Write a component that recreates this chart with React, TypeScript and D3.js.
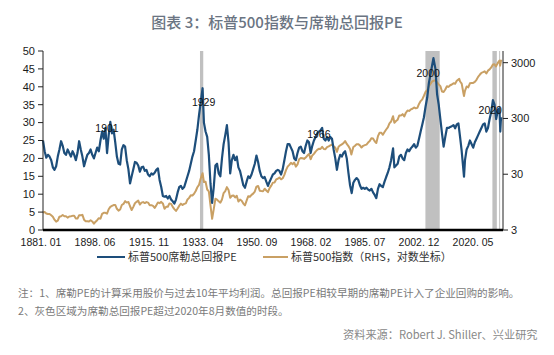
import React from 'react';
import * as d3 from 'd3';

// 标普500席勒总回报PE (left axis), [year, value]
const capeData: [number, number][] = [
  [1881.0, 25.0], [1881.5, 22.0], [1882.0, 20.2], [1882.5, 21.0], [1883.0, 20.5], [1883.5, 19.5],
  [1884.0, 17.5], [1884.5, 16.8], [1885.0, 17.8], [1885.5, 20.5], [1886.0, 22.5], [1886.5, 24.8],
  [1887.0, 23.5], [1887.5, 21.5], [1888.0, 21.0], [1888.5, 22.5], [1889.0, 21.5], [1889.5, 20.5],
  [1890.0, 22.0], [1890.5, 21.0], [1891.0, 19.5], [1891.5, 21.5], [1892.0, 24.8], [1892.5, 22.5],
  [1893.0, 20.5], [1893.5, 17.8], [1894.0, 19.5], [1894.5, 21.0], [1895.0, 21.5], [1895.5, 22.5],
  [1896.0, 21.0], [1896.5, 20.0], [1897.0, 21.5], [1897.5, 23.0], [1898.0, 22.0], [1898.5, 25.0],
  [1899.0, 27.5], [1899.5, 25.5], [1900.0, 28.5], [1900.5, 21.5], [1901.0, 26.5], [1901.5, 30.2],
  [1902.0, 27.0], [1902.5, 28.0], [1903.0, 24.5], [1903.5, 20.5], [1904.0, 18.5], [1904.5, 18.3],
  [1905.0, 22.5], [1905.5, 23.7], [1906.0, 23.3], [1906.5, 19.5], [1907.0, 17.0], [1907.5, 13.0],
  [1908.0, 15.0], [1908.5, 17.0], [1909.0, 19.0], [1909.5, 18.8], [1910.0, 18.0], [1910.5, 16.3],
  [1911.0, 17.5], [1911.5, 17.7], [1912.0, 16.5], [1912.5, 16.8], [1913.0, 15.5], [1913.5, 15.0],
  [1914.0, 15.8], [1914.5, 15.5], [1915.0, 16.0], [1915.5, 16.8], [1916.0, 17.2], [1916.5, 14.0],
  [1917.0, 12.0], [1917.5, 9.5], [1918.0, 9.3], [1918.5, 9.5], [1919.0, 8.8], [1919.5, 9.5],
  [1920.0, 8.5], [1920.5, 8.0], [1921.0, 7.4], [1921.5, 8.5], [1922.0, 10.5], [1922.5, 12.0],
  [1923.0, 12.3], [1923.5, 11.5], [1924.0, 12.0], [1924.5, 13.5], [1925.0, 15.0], [1925.5, 16.5],
  [1926.0, 18.5], [1926.5, 20.5], [1927.0, 22.0], [1927.5, 25.0], [1928.0, 28.0], [1928.5, 32.0],
  [1929.0, 35.5], [1929.6, 39.6], [1930.0, 30.0], [1930.5, 27.5], [1931.0, 26.0], [1931.5, 21.0],
  [1932.0, 13.0], [1932.5, 7.6], [1933.0, 12.0], [1933.5, 18.0], [1934.0, 18.5], [1934.5, 15.8],
  [1935.0, 15.0], [1935.5, 20.0], [1936.0, 24.0], [1936.5, 26.5], [1937.0, 29.3], [1937.5, 24.5],
  [1938.0, 15.8], [1938.5, 19.5], [1939.0, 21.0], [1939.5, 19.5], [1940.0, 20.5], [1940.5, 17.5],
  [1941.0, 16.5], [1941.5, 14.5], [1942.0, 12.5], [1942.5, 11.8], [1943.0, 13.5], [1943.5, 15.0],
  [1944.0, 14.5], [1944.5, 15.5], [1945.0, 17.0], [1945.5, 18.5], [1946.0, 20.8], [1946.5, 19.0],
  [1947.0, 16.5], [1947.5, 15.0], [1948.0, 14.5], [1948.5, 14.8], [1949.0, 13.5], [1949.5, 12.3],
  [1950.0, 13.5], [1950.5, 14.5], [1951.0, 15.5], [1951.5, 15.8], [1952.0, 16.5], [1952.5, 16.8],
  [1953.0, 16.5], [1953.5, 15.5], [1954.0, 17.0], [1954.5, 19.5], [1955.0, 22.0], [1955.5, 24.0],
  [1956.0, 24.0], [1956.5, 23.0], [1957.0, 22.0], [1957.5, 20.0], [1958.0, 19.5], [1958.5, 21.5],
  [1959.0, 23.0], [1959.5, 23.3], [1960.0, 22.0], [1960.5, 21.5], [1961.0, 23.5], [1961.5, 25.0],
  [1962.0, 24.5], [1962.5, 21.5], [1963.0, 23.5], [1963.5, 25.0], [1964.0, 26.0], [1964.5, 27.0],
  [1965.0, 27.5], [1965.5, 27.8], [1966.0, 28.5], [1966.5, 25.5], [1967.0, 25.0], [1967.5, 26.0],
  [1968.0, 25.0], [1968.5, 26.0], [1969.0, 25.5], [1969.5, 22.5], [1970.0, 20.0], [1970.5, 16.8],
  [1971.0, 19.5], [1971.5, 21.0], [1972.0, 20.5], [1972.5, 21.5], [1973.0, 22.0], [1973.5, 20.0],
  [1974.0, 16.0], [1974.5, 12.5], [1975.0, 10.3], [1975.5, 13.2], [1976.0, 14.0], [1976.5, 14.5],
  [1977.0, 14.0], [1977.5, 12.5], [1978.0, 11.5], [1978.5, 11.8], [1979.0, 11.5], [1979.5, 11.8],
  [1980.0, 11.3], [1980.5, 11.0], [1981.0, 11.5], [1981.5, 10.5], [1982.0, 9.8], [1982.5, 8.9],
  [1983.0, 11.5], [1983.5, 12.8], [1984.0, 12.3], [1984.5, 12.0], [1985.0, 13.5], [1985.5, 14.8],
  [1986.0, 16.0], [1986.5, 17.5], [1987.0, 19.5], [1987.6, 22.8], [1988.0, 17.5], [1988.5, 18.0],
  [1989.0, 18.5], [1989.5, 20.5], [1990.0, 21.0], [1990.5, 20.0], [1991.0, 19.5], [1991.5, 21.5],
  [1992.0, 22.5], [1992.5, 22.0], [1993.0, 22.8], [1993.5, 23.3], [1994.0, 24.0], [1994.5, 23.0],
  [1995.0, 23.5], [1995.5, 25.5], [1996.0, 27.5], [1996.5, 29.5], [1997.0, 31.5], [1997.5, 34.5],
  [1998.0, 37.0], [1998.5, 41.0], [1999.0, 43.5], [1999.5, 46.0], [1999.9, 48.0], [2000.5, 45.0],
  [2001.0, 38.0], [2001.5, 35.0], [2002.0, 31.0], [2002.5, 27.0], [2003.0, 23.3], [2003.5, 26.0],
  [2004.0, 28.5], [2004.5, 28.5], [2005.0, 28.8], [2005.5, 29.0], [2006.0, 29.3], [2006.5, 28.4],
  [2007.0, 29.5], [2007.5, 29.8], [2008.0, 26.0], [2008.5, 22.0], [2009.2, 14.9], [2009.5, 19.5],
  [2010.0, 22.5], [2010.5, 23.5], [2011.0, 25.0], [2011.5, 24.0], [2012.0, 23.0], [2012.5, 24.5],
  [2013.0, 25.5], [2013.5, 26.5], [2014.0, 27.5], [2014.5, 28.5], [2015.0, 29.5], [2015.5, 29.8],
  [2016.0, 27.5], [2016.5, 28.5], [2017.0, 31.0], [2017.5, 33.0], [2018.0, 36.3], [2018.5, 35.0],
  [2019.0, 31.0], [2019.5, 33.5], [2020.0, 34.0], [2020.25, 27.5], [2020.42, 30.5], [2020.58, 31.5],
];

// 标普500指数 (right axis, log scale), [year, value]
const spxData: [number, number][] = [
  [1881.0, 6.19], [1881.5, 6.3], [1882.0, 5.92], [1882.5, 5.8], [1883.0, 5.81], [1883.5, 5.5],
  [1884.0, 5.18], [1884.5, 4.6], [1885.0, 4.24], [1885.5, 4.4], [1886.0, 5.2], [1886.5, 5.3],
  [1887.0, 5.58], [1887.5, 5.3], [1888.0, 5.31], [1888.5, 5.0], [1889.0, 5.24], [1889.5, 5.3],
  [1890.0, 5.38], [1890.5, 5.4], [1891.0, 4.84], [1891.5, 4.8], [1892.0, 5.51], [1892.5, 5.5],
  [1893.0, 5.61], [1893.5, 4.6], [1894.0, 4.32], [1894.5, 4.3], [1895.0, 4.25], [1895.5, 4.5],
  [1896.0, 4.27], [1896.5, 3.9], [1897.0, 4.22], [1897.5, 4.5], [1898.0, 4.88], [1898.5, 4.8],
  [1899.0, 5.85], [1899.5, 6.1], [1900.0, 6.1], [1900.5, 5.9], [1901.0, 7.07], [1901.5, 7.8],
  [1902.0, 8.12], [1902.5, 8.4], [1903.0, 8.46], [1903.5, 7.2], [1904.0, 6.68], [1904.5, 7.0],
  [1905.0, 8.43], [1905.5, 8.8], [1906.0, 9.87], [1906.5, 9.3], [1907.0, 9.56], [1907.5, 8.0],
  [1908.0, 6.85], [1908.5, 7.8], [1909.0, 9.06], [1909.5, 9.6], [1910.0, 10.08], [1910.5, 8.6],
  [1911.0, 9.27], [1911.5, 9.5], [1912.0, 9.12], [1912.5, 9.5], [1913.0, 9.3], [1913.5, 8.3],
  [1914.0, 8.37], [1914.5, 8.1], [1915.0, 7.48], [1915.5, 8.3], [1916.0, 9.33], [1916.5, 9.1],
  [1917.0, 9.57], [1917.5, 9.0], [1918.0, 7.21], [1918.5, 7.8], [1919.0, 7.85], [1919.5, 9.0],
  [1920.0, 8.83], [1920.5, 7.8], [1921.0, 7.11], [1921.5, 6.6], [1922.0, 7.3], [1922.5, 8.2],
  [1923.0, 8.9], [1923.5, 8.4], [1924.0, 8.83], [1924.5, 9.0], [1925.0, 10.58], [1925.5, 11.3],
  [1926.0, 12.65], [1926.5, 12.5], [1927.0, 13.4], [1927.5, 15.0], [1928.0, 17.53], [1928.5, 19.3],
  [1929.0, 24.86], [1929.6, 31.3], [1930.0, 21.71], [1930.5, 22.0], [1931.0, 15.98], [1931.5, 14.8],
  [1932.0, 8.3], [1932.5, 4.77], [1933.0, 7.09], [1933.5, 10.9], [1934.0, 10.54], [1934.5, 9.8],
  [1935.0, 9.26], [1935.5, 10.6], [1936.0, 13.76], [1936.5, 15.0], [1937.0, 17.59], [1937.5, 15.7],
  [1938.0, 11.31], [1938.5, 12.3], [1939.0, 12.5], [1939.5, 11.5], [1940.0, 12.3], [1940.5, 9.7],
  [1941.0, 10.55], [1941.5, 10.0], [1942.0, 8.93], [1942.5, 8.3], [1943.0, 10.09], [1943.5, 12.1],
  [1944.0, 11.85], [1944.5, 12.8], [1945.0, 13.49], [1945.5, 14.7], [1946.0, 18.02], [1946.5, 18.5],
  [1947.0, 15.21], [1947.5, 15.0], [1948.0, 14.83], [1948.5, 16.5], [1949.0, 15.36], [1949.5, 14.3],
  [1950.0, 16.88], [1950.5, 18.7], [1951.0, 21.21], [1951.5, 21.4], [1952.0, 24.19], [1952.5, 24.9],
  [1953.0, 26.18], [1953.5, 24.3], [1954.0, 25.46], [1954.5, 29.2], [1955.0, 35.6], [1955.5, 41.0],
  [1956.0, 44.15], [1956.5, 48.0], [1957.0, 45.43], [1957.5, 48.5], [1958.0, 41.12], [1958.5, 45.0],
  [1959.0, 55.62], [1959.5, 58.5], [1960.0, 58.03], [1960.5, 56.5], [1961.0, 59.72], [1961.5, 65.0],
  [1962.0, 69.07], [1962.5, 55.6], [1963.0, 65.06], [1963.5, 69.5], [1964.0, 76.45], [1964.5, 82.0],
  [1965.0, 86.12], [1965.5, 85.0], [1966.0, 93.32], [1966.5, 85.0], [1967.0, 84.45], [1967.5, 92.0],
  [1968.0, 95.04], [1968.5, 99.0], [1969.0, 102.0], [1969.5, 94.7], [1970.0, 90.31], [1970.5, 75.6],
  [1971.0, 93.49], [1971.5, 99.0], [1972.0, 103.3], [1972.5, 108.0], [1973.0, 118.4], [1973.5, 105.0],
  [1974.0, 96.11], [1974.5, 85.0], [1974.9, 68.0], [1975.5, 92.5], [1976.0, 96.86], [1976.5, 103.0],
  [1977.0, 103.8], [1977.5, 99.0], [1978.0, 90.25], [1978.5, 97.0], [1979.0, 99.71], [1979.5, 102.0],
  [1980.0, 110.9], [1980.5, 118.0], [1981.0, 132.9], [1981.5, 131.0], [1982.0, 117.3], [1982.5, 109.0],
  [1983.0, 144.3], [1983.5, 166.0], [1984.0, 166.4], [1984.5, 153.0], [1985.0, 171.6], [1985.5, 190.0],
  [1986.0, 208.2], [1986.5, 245.0], [1987.0, 264.5], [1987.6, 329.0], [1988.0, 250.5], [1988.5, 270.0],
  [1989.0, 285.4], [1989.5, 340.0], [1990.0, 340.0], [1990.5, 358.0], [1991.0, 325.5], [1991.5, 380.0],
  [1992.0, 416.1], [1992.5, 410.0], [1993.0, 435.2], [1993.5, 448.0], [1994.0, 473.0], [1994.5, 455.0],
  [1995.0, 465.3], [1995.5, 546.0], [1996.0, 614.4], [1996.5, 660.0], [1997.0, 766.2], [1997.5, 903.0],
  [1998.0, 963.4], [1998.5, 1133.0], [1999.0, 1248.8], [1999.5, 1380.0], [2000.0, 1425.6], [2000.5, 1460.0],
  [2001.0, 1335.6], [2001.5, 1224.0], [2002.0, 1140.0], [2002.5, 911.0], [2003.0, 895.8], [2003.5, 990.0],
  [2004.0, 1132.5], [2004.5, 1105.0], [2005.0, 1181.4], [2005.5, 1220.0], [2006.0, 1278.7], [2006.5, 1260.0],
  [2007.0, 1424.2], [2007.75, 1539.0], [2008.0, 1378.8], [2008.5, 1260.0], [2009.0, 865.6], [2009.2, 757.0],
  [2009.5, 935.0], [2010.0, 1123.6], [2010.5, 1083.0], [2011.0, 1282.6], [2011.5, 1300.0], [2012.0, 1300.6],
  [2012.5, 1360.0], [2013.0, 1480.4], [2013.5, 1670.0], [2014.0, 1822.4], [2014.5, 1975.0], [2015.0, 2028.2],
  [2015.5, 2100.0], [2016.0, 1918.6], [2016.5, 2160.0], [2017.0, 2275.1], [2017.5, 2470.0], [2018.0, 2789.8],
  [2018.5, 2800.0], [2018.92, 2567.0], [2019.0, 2607.4], [2019.5, 2980.0], [2020.0, 3278.0], [2020.2, 2652.0],
  [2020.45, 3207.0], [2020.58, 3391.0],
];

// Periods where total-return CAPE exceeded the Aug-2020 value
const shadedPeriods: [number, number][] = [
  [1928.8, 1929.8],
  [1997.45, 2001.8],
  [2017.85, 2019.2],
  [2019.9, 2020.15],
];

const peakLabels: { label: string; year: number; value: number }[] = [
  { label: '1901', year: 1900.5, value: 28.5 },
  { label: '1929', year: 1929.9, value: 35.8 },
  { label: '1966', year: 1965.0, value: 26.8 },
  { label: '2000', year: 1998.3, value: 43.9 },
  { label: '2020', year: 2017.2, value: 33.3 },
];

const xLabels = ['1881. 01', '1898. 06', '1915. 11', '1933. 04', '1950. 09', '1968. 02', '1985. 07', '2002. 12', '2020. 05'];
const leftTicks = [0, 5, 10, 15, 20, 25, 30, 35, 40, 45, 50];
const rightTicks = [3, 30, 300, 3000];

const title = '图表 3：标普500指数与席勒总回报PE';
const legendCape = '标普500席勒总回报PE';
const legendSpx = '标普500指数（RHS，对数坐标）';
const note1 = '注：1、席勒PE的计算采用股价与过去10年平均利润。总回报PE相较早期的席勒PE计入了企业回购的影响。';
const note2 = '2、灰色区域为席勒总回报PE超过2020年8月数值的时段。';
const source = '资料来源：Robert J. Shiller、兴业研究';

const BLUE = '#1d4e7b';
const GOLD = '#c9a064';
const CJK = '"Noto Sans CJK SC", "Noto Sans", sans-serif';
const ARIAL = '"Liberation Sans", Arial, sans-serif';

export default function App() {
  const W = 554, H = 355;
  const left = 43, right = 503, top = 51, bottom = 230;

  const x = d3.scaleLinear().domain([1881.0, 2020.62]).range([left, 501.5]);
  const yL = d3.scaleLinear().domain([0, 50]).range([bottom, top]);
  const yR = d3.scaleLog().domain([3, 4860]).range([bottom, top]);
  const xLab = d3.scalePoint<string>().domain(xLabels).range([41, 473]);

  const capeLine = d3.line<[number, number]>().x(d => x(d[0])).y(d => yL(d[1]));
  const spxLine = d3.line<[number, number]>().x(d => x(d[0])).y(d => yR(d[1]));

  return (
    <svg width={W} height={H} style={{ position: 'absolute', left: 0, top: 0, background: '#fff' }}>
      <rect x={0} y={0} width={W} height={H} fill="#fff" />
      <text x={W / 2} y={28} textAnchor="middle" fontFamily={CJK} fontSize={15} fontWeight={500} fill="#6a7482">{title}</text>

      {shadedPeriods.map((p, i) => (
        <rect key={i} x={x(p[0])} y={top} width={Math.max(1, x(p[1]) - x(p[0]))} height={bottom - top} fill="#c0c0c0" />
      ))}

      <path d={spxLine(spxData) || ''} fill="none" stroke={GOLD} strokeWidth={2} strokeLinejoin="round" />
      <path d={capeLine(capeData) || ''} fill="none" stroke={BLUE} strokeWidth={2.2} strokeLinejoin="round" />

      {peakLabels.map(p => (
        <text key={p.label} x={x(p.year)} y={yL(p.value)} dy="0.35em" textAnchor="middle" fontFamily={ARIAL} fontSize={10.5} fill="#111">{p.label}</text>
      ))}

      {/* left axis */}
      <line x1={left} x2={left} y1={top} y2={bottom} stroke="#222" strokeWidth={1} />
      {leftTicks.map(t => (
        <g key={t}>
          <line x1={left - 5} x2={left} y1={yL(t)} y2={yL(t)} stroke="#222" strokeWidth={1} />
          <text x={35} y={yL(t)} dy="0.35em" textAnchor="end" fontFamily={ARIAL} fontSize={11} fill="#1a1a1a">{t}</text>
        </g>
      ))}

      {/* right axis */}
      <line x1={right} x2={right} y1={top} y2={bottom} stroke="#222" strokeWidth={1} />
      {rightTicks.map(t => (
        <g key={t}>
          <line x1={right} x2={right + 5} y1={yR(t)} y2={yR(t)} stroke="#222" strokeWidth={1} />
          <text x={511} y={yR(t)} dy="0.35em" textAnchor="start" fontFamily={ARIAL} fontSize={11} fill="#1a1a1a">{t}</text>
        </g>
      ))}

      {/* x axis */}
      <line x1={left} x2={right} y1={bottom} y2={bottom} stroke="#000" strokeWidth={2.5} />
      {xLabels.map(l => (
        <text key={l} x={xLab(l)} y={246} textAnchor="middle" fontFamily={ARIAL} fontSize={10.5} fill="#1a1a1a">{l}</text>
      ))}

      {/* legend */}
      <line x1={97} x2={125} y1={257} y2={257} stroke={BLUE} strokeWidth={2} />
      <text x={128} y={257} dy="0.35em" fontFamily={CJK} fontSize={11} fill="#333">{legendCape}</text>
      <line x1={263} x2={288} y1={257} y2={257} stroke={GOLD} strokeWidth={2} />
      <text x={291} y={257} dy="0.35em" fontFamily={CJK} fontSize={11} fill="#333">{legendSpx}</text>

      {/* notes */}
      <text x={18} y={293} dy="0.35em" fontFamily={CJK} fontSize={10.6} fill="#7a7a7a">{note1}</text>
      <text x={18} y={311.5} dy="0.35em" fontFamily={CJK} fontSize={10.6} fill="#7a7a7a">{note2}</text>
      <text x={343} y={335} dy="0.35em" fontFamily={CJK} fontSize={11.2} fill="#888">{source}</text>
    </svg>
  );
}
